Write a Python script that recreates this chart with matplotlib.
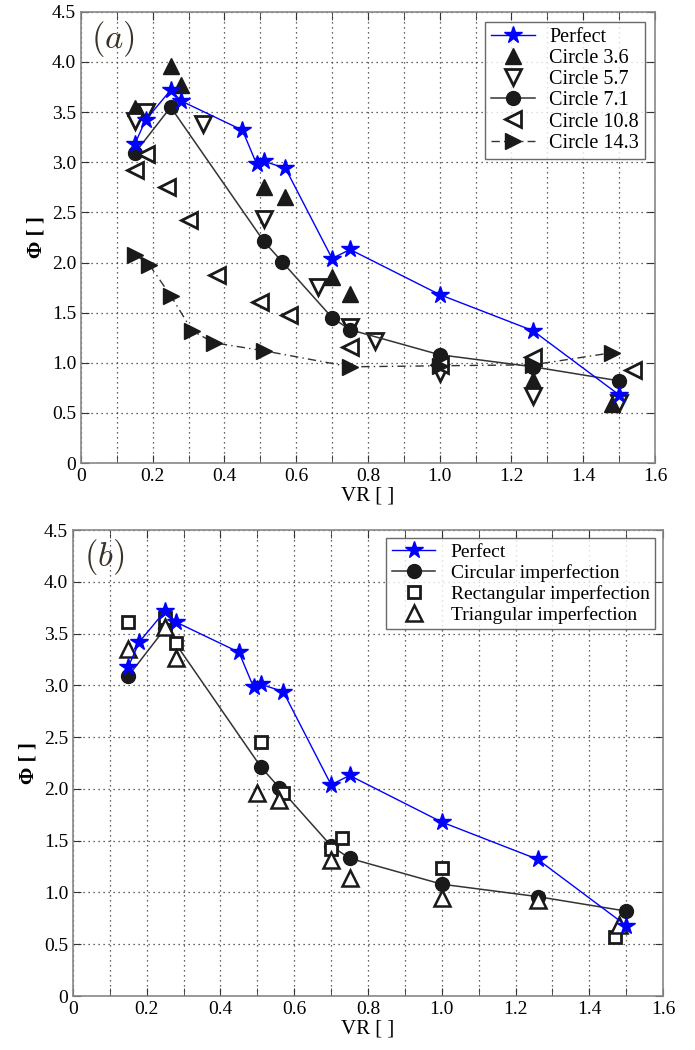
import matplotlib
matplotlib.use('Agg')
import matplotlib.pyplot as plt
from matplotlib.ticker import FixedLocator, FuncFormatter

plt.rcParams['font.family'] = ['Liberation Serif', 'DejaVu Serif']
plt.rcParams['mathtext.fontset'] = 'cm'

# Perfect case (same in both panels)
vr_perfect = [0.15, 0.18, 0.25, 0.28, 0.45, 0.49, 0.51, 0.57, 0.70, 0.75, 1.00, 1.26, 1.50]
phi_perfect = [3.18, 3.42, 3.72, 3.61, 3.32, 2.98, 3.01, 2.94, 2.04, 2.13, 1.68, 1.32, 0.68]

# Panel (a): circle sizes
vr_c36 = [0.15, 0.25, 0.28, 0.51, 0.57, 0.70, 0.75, 1.26, 1.48]
phi_c36 = [3.54, 3.96, 3.77, 2.75, 2.65, 1.86, 1.69, 0.83, 0.59]

vr_c57 = [0.15, 0.18, 0.34, 0.51, 0.66, 0.75, 0.82, 1.00, 1.26, 1.50]
phi_c57 = [3.41, 3.50, 3.38, 2.43, 1.76, 1.36, 1.22, 0.90, 0.67, 0.60]

vr_c71 = [0.15, 0.25, 0.51, 0.56, 0.70, 0.75, 1.00, 1.26, 1.50]
phi_c71 = [3.09, 3.55, 2.21, 2.01, 1.45, 1.33, 1.08, 0.96, 0.82]

vr_c108 = [0.15, 0.18, 0.24, 0.30, 0.38, 0.50, 0.58, 0.75, 1.00, 1.26, 1.54]
phi_c108 = [2.92, 3.08, 2.75, 2.42, 1.88, 1.61, 1.48, 1.16, 0.98, 1.06, 0.93]

vr_c143 = [0.15, 0.19, 0.25, 0.31, 0.37, 0.51, 0.75, 1.00, 1.26, 1.48]
phi_c143 = [2.08, 1.98, 1.67, 1.32, 1.20, 1.12, 0.96, 0.97, 0.98, 1.10]

# Panel (b): imperfection shapes
vr_rect = [0.15, 0.25, 0.28, 0.51, 0.57, 0.70, 0.73, 1.00, 1.47]
phi_rect = [3.61, 3.65, 3.41, 2.45, 1.96, 1.42, 1.53, 1.24, 0.57]

vr_tri = [0.15, 0.25, 0.28, 0.50, 0.56, 0.70, 0.75, 1.00, 1.26, 1.48]
phi_tri = [3.35, 3.56, 3.26, 1.96, 1.89, 1.31, 1.14, 0.95, 0.93, 0.69]

x_ticks = [0, 0.2, 0.4, 0.6, 0.8, 1.0, 1.2, 1.4, 1.6]
y_ticks = [0, 0.5, 1.0, 1.5, 2.0, 2.5, 3.0, 3.5, 4.0, 4.5]

BLK = '#1a1a1a'
LINE = '#333333'


def fmt(v, pos):
    return '0' if abs(v) < 1e-9 else '%.1f' % v


def style_axes(ax, label):
    ax.set_xlim(0, 1.6)
    ax.set_ylim(0, 4.5)
    ax.xaxis.set_major_locator(FixedLocator(x_ticks))
    ax.xaxis.set_minor_locator(FixedLocator([0.1 + 0.2 * i for i in range(8)]))
    ax.yaxis.set_major_locator(FixedLocator(y_ticks))
    ax.xaxis.set_major_formatter(FuncFormatter(fmt))
    ax.yaxis.set_major_formatter(FuncFormatter(fmt))
    ax.grid(True, which='both', axis='x', linestyle=(0, (1, 3)), color='#333333', linewidth=0.9)
    ax.grid(True, which='major', axis='y', linestyle=(0, (1, 3)), color='#333333', linewidth=0.9)
    ax.tick_params(which='both', direction='in', top=True, right=True, length=6,
                   labelsize=14, color='#333333')
    for s in ax.spines.values():
        s.set_color('#888888')
        s.set_linewidth(1.2)
    ax.set_xlabel('VR [ ]', fontsize=15, labelpad=1)
    ax.set_ylabel('Φ [ ]', fontsize=15, fontweight='bold', labelpad=4)
    ax.text(0.018, 0.985, label, transform=ax.transAxes, fontsize=25,
            color='#3b3226', va='top', ha='left')


fig = plt.figure(figsize=(6.95, 10.5), dpi=100)
ax1 = fig.add_axes([0.1165, 0.559, 0.8259, 0.4297])
ax2 = fig.add_axes([0.105, 0.0514, 0.849, 0.4438])

# Panel (a)
ax1.plot(vr_perfect, phi_perfect, color='blue', marker='*', markersize=13, linewidth=1,
         label='Perfect', zorder=5)
ax1.plot(vr_c36, phi_c36, linestyle='none', marker='^', markersize=11, color=BLK,
         label='Circle 3.6')
ax1.plot(vr_c57, phi_c57, linestyle='none', marker='v', markersize=11, color=BLK,
         markerfacecolor='white', markeredgewidth=2, label='Circle 5.7')
ax1.plot(vr_c71, phi_c71, color=LINE, marker='o', markersize=10, markerfacecolor=BLK,
         markeredgecolor=BLK, linewidth=1.1, label='Circle 7.1')
ax1.plot(vr_c108, phi_c108, linestyle='none', marker='<', markersize=11, color=BLK,
         markerfacecolor='white', markeredgewidth=2, label='Circle 10.8')
ax1.plot(vr_c143, phi_c143, color=LINE, linestyle=(0, (6, 3, 1, 3)), linewidth=1,
         marker='>', markersize=11, markerfacecolor=BLK, markeredgecolor=BLK,
         label='Circle 14.3')
style_axes(ax1, r'$(a)$')
leg1 = ax1.legend(loc='upper right', fontsize=14.5, frameon=True, fancybox=False,
                  edgecolor='#444444', borderpad=0.3, labelspacing=0.1,
                  handlelength=2.2, handletextpad=0.7, borderaxespad=0.5)
leg1.get_frame().set_linewidth(1.0)

# Panel (b)
ax2.plot(vr_perfect, phi_perfect, color='blue', marker='*', markersize=13, linewidth=1,
         label='Perfect', zorder=5)
ax2.plot(vr_c71, phi_c71, color=LINE, marker='o', markersize=10, markerfacecolor=BLK,
         markeredgecolor=BLK, linewidth=1.1, label='Circular imperfection')
ax2.plot(vr_rect, phi_rect, linestyle='none', marker='s', markersize=9, color=BLK,
         markerfacecolor='white', markeredgewidth=2, label='Rectangular imperfection')
ax2.plot(vr_tri, phi_tri, linestyle='none', marker='^', markersize=12, color=BLK,
         markerfacecolor='white', markeredgewidth=1.8, label='Triangular imperfection')
style_axes(ax2, r'$(b)$')
leg2 = ax2.legend(loc='upper right', fontsize=14, frameon=True, fancybox=False,
                  edgecolor='#444444', borderpad=0.3, labelspacing=0.15,
                  handlelength=2.2, handletextpad=0.8, borderaxespad=0.4)
leg2.get_frame().set_linewidth(1.0)

fig.savefig('out.png', dpi=100)
